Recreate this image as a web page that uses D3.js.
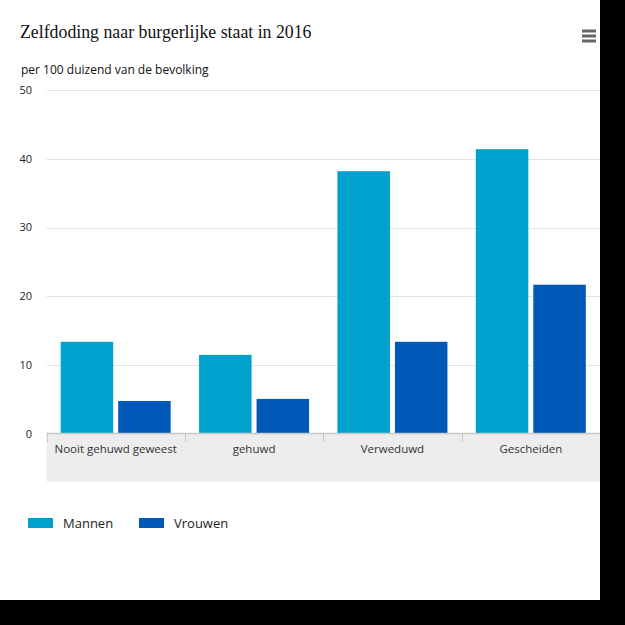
<!DOCTYPE html>
<html><head><meta charset="utf-8">
<script src="https://cdn.jsdelivr.net/npm/d3@7"></script>
<style>
html,body{margin:0;padding:0;background:#000;}
svg{display:block;}
</style></head>
<body>
<script>
const categories = ["Nooit gehuwd geweest", "gehuwd", "Verweduwd", "Gescheiden"];
const seriesNames = ["Mannen", "Vrouwen"];
const mannen = [13.4, 11.5, 38.2, 41.4];
const vrouwen = [4.8, 5.1, 13.4, 21.7];
const yTicks = [0, 10, 20, 30, 40, 50];
const colors = ["#00a1cd", "#0058b8"];

const W = 625, H = 625;
const svg = d3.select("body").append("svg").attr("width", W).attr("height", H);
svg.append("rect").attr("width", W).attr("height", H).attr("fill", "#000");
svg.append("rect").attr("width", 600).attr("height", 600).attr("fill", "#fff");

const plot = {left: 46.5, right: 600, top: 90, bottom: 434};
const x = d3.scaleBand().domain(categories).range([plot.left, plot.right]);
const x1 = d3.scaleBand().domain(seriesNames).range([0, x.bandwidth()]).paddingInner(0.087).paddingOuter(0.247);
const y = d3.scaleLinear().domain([0, 50]).range([plot.bottom, plot.top]);

// x-axis grey band
svg.append("rect").attr("x", plot.left).attr("y", plot.bottom).attr("width", plot.right - plot.left)
  .attr("height", 47.5).attr("fill", "#ededed");

// gridlines
svg.append("g").selectAll("line").data(yTicks.filter(d => d > 0)).join("line")
  .attr("x1", plot.left).attr("x2", plot.right)
  .attr("y1", d => Math.round(y(d)) + 0.5).attr("y2", d => Math.round(y(d)) + 0.5)
  .attr("stroke", "#e3e3e3").attr("stroke-width", 1);

// y labels
svg.append("g").selectAll("text").data(yTicks).join("text")
  .attr("x", 32).attr("y", d => y(d)).attr("dy", "0.35em").attr("text-anchor", "end")
  .attr("font-family", "Open Sans, sans-serif").attr("font-size", 11).attr("fill", "#222")
  .text(d => d);

// bars
const data = categories.map((c, i) => ({cat: c, vals: [mannen[i], vrouwen[i]]}));
const groups = svg.append("g").selectAll("g").data(data).join("g")
  .attr("transform", d => `translate(${x(d.cat)},0)`);
groups.selectAll("rect").data(d => d.vals.map((v, j) => ({s: seriesNames[j], v, j}))).join("rect")
  .attr("x", d => x1(d.s)).attr("width", x1.bandwidth())
  .attr("y", d => y(d.v)).attr("height", d => y(0) - y(d.v))
  .attr("fill", d => colors[d.j]);

// x axis line
svg.append("line").attr("x1", plot.left).attr("x2", plot.right)
  .attr("y1", plot.bottom - 0.5).attr("y2", plot.bottom - 0.5)
  .attr("stroke", "#c8c8c8").attr("stroke-width", 1.5);

// tick dividers
const ticksX = categories.map(c => x(c));
svg.append("g").selectAll("line").data(ticksX).join("line")
  .attr("x1", d => Math.round(d) + 0.5).attr("x2", d => Math.round(d) + 0.5)
  .attr("y1", plot.bottom).attr("y2", plot.bottom + 8)
  .attr("stroke", "#c8c8c8").attr("stroke-width", 1);

// x labels
svg.append("g").selectAll("text").data(categories).join("text")
  .attr("x", d => x(d) + x.bandwidth() / 2).attr("y", plot.bottom + 15).attr("dy", "0.35em")
  .attr("text-anchor", "middle").attr("font-family", "Open Sans, sans-serif").attr("font-size", 11.5)
  .attr("fill", "#333").text(d => d);

// title
svg.append("text").attr("x", 20).attr("y", 38).attr("font-family", "Liberation Serif, serif")
  .attr("font-size", 17.8).attr("fill", "#111").text("Zelfdoding naar burgerlijke staat in 2016");
svg.append("text").attr("x", 21).attr("y", 74).attr("font-family", "Open Sans, sans-serif")
  .attr("font-size", 12).attr("fill", "#111").text("per 100 duizend van de bevolking");

// hamburger
[31, 36, 41].forEach(yy => {
  svg.append("rect").attr("x", 582).attr("y", yy - 1.5).attr("width", 14).attr("height", 3).attr("fill", "#666");
});

// legend
const legX = [28, 139];
seriesNames.forEach((s, i) => {
  svg.append("rect").attr("x", legX[i]).attr("y", 518).attr("width", 25).attr("height", 10).attr("fill", colors[i]);
  svg.append("text").attr("x", legX[i] + 35).attr("y", 523).attr("dy", "0.35em")
    .attr("font-family", "Open Sans, sans-serif").attr("font-size", 13).attr("fill", "#222").text(s);
});
</script>
</body></html>
